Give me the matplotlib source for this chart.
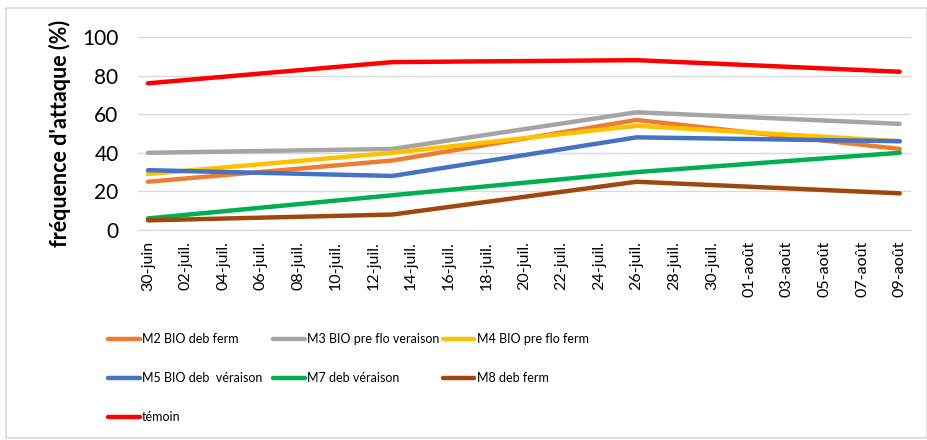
import datetime as dt
import matplotlib
matplotlib.use("Agg")
import matplotlib.pyplot as plt
import matplotlib.dates as mdates
from matplotlib.patches import Rectangle
from matplotlib.ticker import FuncFormatter

plt.rcParams['font.family'] = ['Lato', 'DejaVu Sans']

# Data (dates of observation)
dates = [dt.date(2021, 6, 30), dt.date(2021, 7, 13), dt.date(2021, 7, 26), dt.date(2021, 8, 9)]

m2 = [25, 36, 57, 42]
m3 = [40, 42, 61, 55]
m4 = [29, 40, 54, 46]
m5 = [31, 28, 48, 46]
m7 = [6, 18, 30, 40]
m8 = [5, 8, 25, 19]
temoin = [76, 87, 88, 82]

labels = ['M2 BIO deb ferm', 'M3 BIO pre flo veraison', 'M4 BIO pre flo ferm',
          'M5 BIO deb  véraison', 'M7 deb véraison', 'M8 deb ferm', 'témoin']
colors = ['#ED7D31', '#A5A5A5', '#FFC000', '#4472C4', '#00B050', '#9E480E', '#FF0000']
series = [m2, m3, m4, m5, m7, m8, temoin]

mois = {6: 'juin', 7: 'juil.', 8: 'août'}

fig = plt.figure(figsize=(9.28, 4.40), dpi=100)
ax = fig.add_axes([138 / 928, 1 - 230 / 440, (911 - 138) / 928, (230 - 37) / 440])

# light frame around the chart
fig.patches.append(Rectangle((6 / 928, 2 / 440), 921 / 928, 430 / 440, transform=fig.transFigure,
                             fill=False, edgecolor='#D9D9D9', linewidth=1.2))

lines = []
for vals, lab, col in zip(series, labels, colors):
    ln, = ax.plot(dates, vals, color=col, linewidth=3.2, label=lab, solid_capstyle='round')
    lines.append(ln)

ax.set_ylim(0, 100)
ax.set_yticks(range(0, 101, 20))
ax.set_xlim(mdates.date2num(dates[0]) - 0.53, mdates.date2num(dates[-1]) + 0.6)
ticks = [mdates.date2num(dates[0]) + 2 * i for i in range(21)]
ax.set_xticks(ticks)


def fmt(x, pos):
    d = mdates.num2date(x)
    return f"{d.day:02d}-{mois[d.month]}"


ax.xaxis.set_major_formatter(FuncFormatter(fmt))
plt.setp(ax.get_xticklabels(), rotation=90, fontsize=11.5)
ax.tick_params(axis='x', length=0, pad=8)
ax.tick_params(axis='y', length=0, pad=14, labelsize=15)

ax.grid(axis='y', color='#D9D9D9', linewidth=1)
ax.set_axisbelow(True)
for s in ['top', 'right', 'left']:
    ax.spines[s].set_visible(False)
ax.spines['bottom'].set_color('#D9D9D9')

ax.set_ylabel("fréquence d'attaque (%)", fontsize=15.5, fontweight='bold', labelpad=8)

# legend laid out in three fixed columns, row by row
col_x = [97, 262, 432]
cols = [[0, 3, 6], [1, 4], [2, 5]]
for cx, idx in zip(col_x, cols):
    fig.legend([lines[i] for i in idx], [labels[i] for i in idx],
               loc='upper left', bbox_to_anchor=(cx / 928, 1 - 322 / 440), frameon=False,
               fontsize=9, handlelength=2.5, handletextpad=0.2, labelspacing=2.15)

fig.savefig('out.png', dpi=100)
